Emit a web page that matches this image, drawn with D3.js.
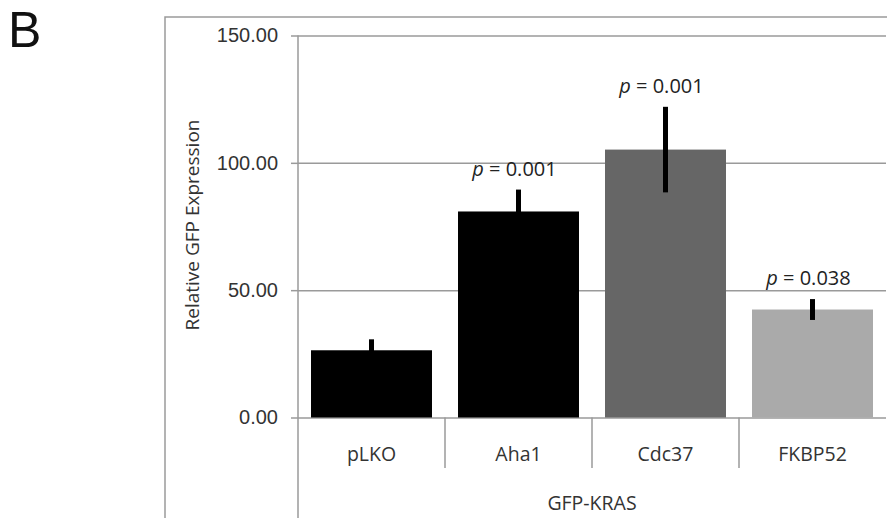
<!DOCTYPE html>
<html lang="en">
<head>
    <meta charset="UTF-8">
    <title>Relative GFP Expression</title>
    <script src="https://d3js.org/d3.v7.min.js"></script>
    <style>
        body { margin: 0; background: #fff; }
        svg { display: block; font-family: "Open Sans", sans-serif; }
        .axis-y text { font-size: 20px; fill: #333; }
        .axis-y line, .grid line { stroke: #9a9a9a; stroke-width: 1.5; }
        .axis-y path, .grid path { display: none; }
        .cat-label { font-size: 19.5px; fill: #333; text-anchor: middle; }
        .p-label { font-size: 20px; fill: #222; text-anchor: middle; }
    </style>
</head>
<body>
    <svg width="887" height="518"></svg>

    <script>
        // data
        const categories = ["pLKO", "Aha1", "Cdc37", "FKBP52"];
        const values = [26.4, 80.9, 105.2, 42.4];
        const errors = [4.3, 8.6, 16.8, 4.1];
        const pValues = ["", "0.001", "0.001", "0.038"];
        const barColors = ["#000000", "#000000", "#666666", "#aaaaaa"];
        const yTicks = [0, 50, 100, 150];
        const groupLabel = "GFP-KRAS";
        const yTitle = "Relative GFP Expression";

        const data = categories.map((c, i) => ({
            cat: c, value: values[i], err: errors[i], p: pValues[i], color: barColors[i]
        }));

        // plot box
        const plotLeft = 298, plotRight = 886, plotTop = 35.5, plotBottom = 417.5;

        const svg = d3.select("svg");

        // scales
        const x = d3.scaleBand().domain(categories).range([plotLeft, plotRight])
            .paddingInner(0.177).paddingOuter(0.0885);
        const xGroup = d3.scaleBand().domain(categories).range([plotLeft, plotRight]).padding(0);
        const y = d3.scaleLinear().domain([0, 150]).range([plotBottom, plotTop]);

        // outer chart frame
        svg.append("path")
            .attr("d", `M165,518 V17 H887`)
            .attr("fill", "none")
            .attr("stroke", "#9a9a9a")
            .attr("stroke-width", 1.5);

        // panel letter
        svg.append("text")
            .attr("x", 8)
            .attr("y", 47)
            .style("font-family", "'Liberation Sans', sans-serif")
            .style("font-size", "50px")
            .style("fill", "#111")
            .text("B");

        // gridlines
        svg.append("g")
            .attr("class", "grid")
            .attr("transform", `translate(${plotLeft},0)`)
            .call(d3.axisLeft(y).tickValues(yTicks).tickSize(-(plotRight - plotLeft)).tickFormat(""));

        // y axis with ticks and labels
        svg.append("g")
            .attr("class", "axis-y")
            .attr("transform", `translate(${plotLeft},0)`)
            .call(d3.axisLeft(y).tickValues(yTicks).tickSize(7).tickPadding(13).tickFormat(d3.format(".2f")));

        // vertical axis line, continues down through the category area
        svg.append("line")
            .attr("x1", plotLeft).attr("x2", plotLeft)
            .attr("y1", plotTop).attr("y2", 518)
            .attr("stroke", "#9a9a9a").attr("stroke-width", 1.5);

        // category dividers
        svg.selectAll(".divider")
            .data(categories.slice(0, -1))
            .enter().append("line")
            .attr("class", "divider")
            .attr("x1", d => xGroup(d) + xGroup.bandwidth())
            .attr("x2", d => xGroup(d) + xGroup.bandwidth())
            .attr("y1", plotBottom)
            .attr("y2", 468)
            .attr("stroke", "#9a9a9a").attr("stroke-width", 1.5);

        // bars
        svg.selectAll(".bar")
            .data(data)
            .enter().append("rect")
            .attr("class", "bar")
            .attr("x", d => x(d.cat))
            .attr("width", x.bandwidth())
            .attr("y", d => y(d.value))
            .attr("height", d => y(0) - y(d.value))
            .attr("fill", d => d.color);

        // error bars
        svg.selectAll(".err")
            .data(data)
            .enter().append("line")
            .attr("class", "err")
            .attr("x1", d => x(d.cat) + x.bandwidth() / 2)
            .attr("x2", d => x(d.cat) + x.bandwidth() / 2)
            .attr("y1", d => y(d.value + d.err))
            .attr("y2", d => y(d.value - d.err))
            .attr("stroke", "#000").attr("stroke-width", 5);

        // p-value labels
        const pl = svg.selectAll(".p-label")
            .data(data.filter(d => d.p))
            .enter().append("text")
            .attr("class", "p-label")
            .attr("x", d => x(d.cat) + x.bandwidth() / 2 - 4)
            .attr("y", d => y(d.value + d.err) - 14);
        pl.append("tspan").style("font-style", "italic").text("p");
        pl.append("tspan").text(d => " = " + d.p);

        // category labels
        svg.selectAll(".cat-label")
            .data(categories)
            .enter().append("text")
            .attr("class", "cat-label")
            .attr("x", d => xGroup(d) + xGroup.bandwidth() / 2)
            .attr("y", 461)
            .text(d => d);

        // group label
        svg.append("text")
            .attr("class", "cat-label")
            .attr("x", (plotLeft + plotRight) / 2)
            .attr("y", 510)
            .text(groupLabel);

        // y axis title
        svg.append("text")
            .attr("transform", "rotate(-90)")
            .attr("x", -225)
            .attr("y", 199)
            .style("text-anchor", "middle")
            .style("font-size", "19px")
            .style("fill", "#333")
            .text(yTitle);
    </script>
</body>
</html>
